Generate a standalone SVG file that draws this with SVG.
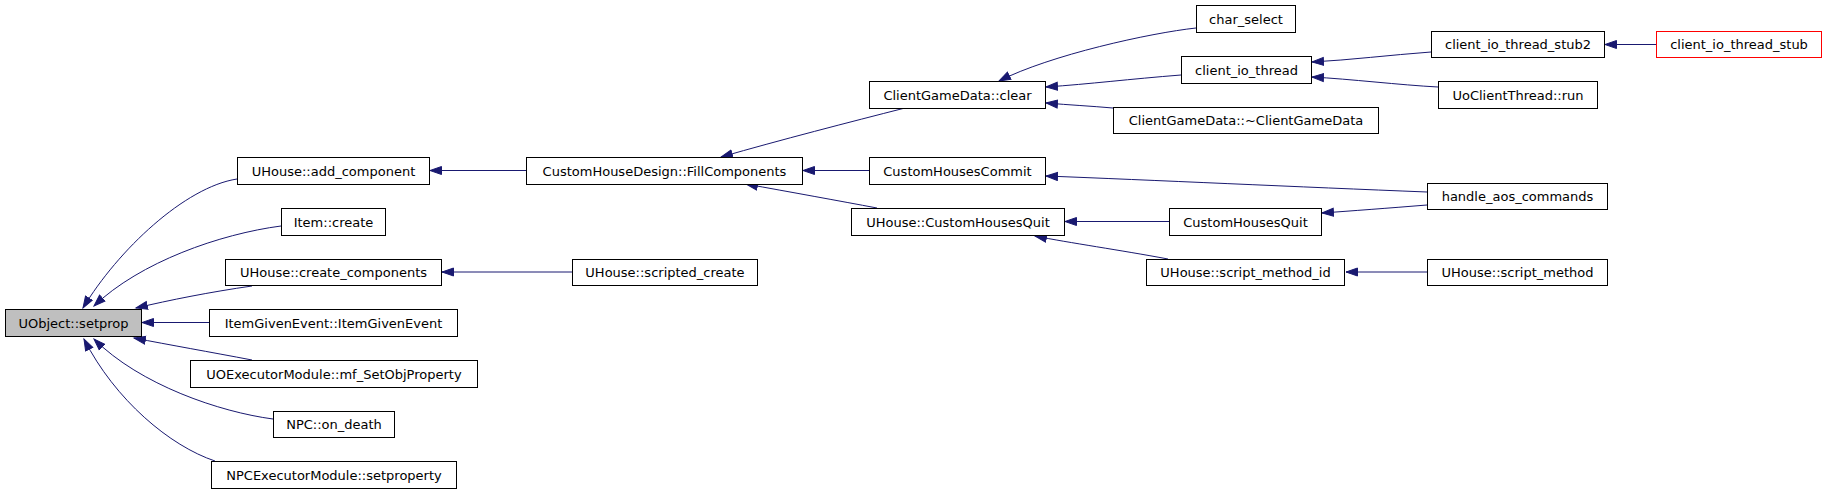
<svg xmlns="http://www.w3.org/2000/svg" width="1827" height="493" viewBox="0 0 1827 493">
<style>
.n rect{fill:#fff;stroke:#000;stroke-width:1}
.n text{font-family:"DejaVu Sans",sans-serif;font-size:13px;text-anchor:middle;fill:#000}
#edges path{fill:none;stroke:#191970;stroke-width:1;marker-end:url(#ah)}
</style>
<defs>
<marker id="ah" markerUnits="userSpaceOnUse" markerWidth="14" markerHeight="10" refX="12" refY="4.5" orient="auto" viewBox="0 0 14 9">
<path d="M0.5,0.5 L12,4.5 L0.5,8.5 z" fill="#191970" stroke="#191970" stroke-width="1"/>
</marker>
</defs>
<rect width="1827" height="493" fill="#fff"/>
<g id="edges">
<path d="M237,179 C185,187 118,250 83,308"/>
<path d="M281,226 C220,234 140,262 94,306"/>
<path d="M252,286 C210,292 170,300 136,308"/>
<path d="M209,322.5 L142,322.5"/>
<path d="M252,360 C210,352 170,345 134,338"/>
<path d="M273,419 C220,412 140,385 94,339"/>
<path d="M215,461 C170,446 115,400 84,339"/>
<path d="M526,170.5 L430,170.5"/>
<path d="M572,272 L442,272"/>
<path d="M905,108 C850,122 780,140 721,157"/>
<path d="M869,170.5 L803,170.5"/>
<path d="M877,208 C840,201 790,192 746,184"/>
<path d="M1196,28 C1150,33 1050,55 999,81"/>
<path d="M1181,75 C1130,79 1090,84 1046,87"/>
<path d="M1113,108 C1090,106 1070,105 1046,103"/>
<path d="M1431,52 C1390,55 1350,60 1312,62"/>
<path d="M1438,87 C1400,85 1350,79 1312,77"/>
<path d="M1656,44.5 L1605,44.5"/>
<path d="M1427,192 C1300,187 1150,180 1046,176"/>
<path d="M1427,205 C1390,208 1350,211 1322,213"/>
<path d="M1169,221.5 L1065,221.5"/>
<path d="M1168,259 C1120,250 1070,243 1035,236"/>
<path d="M1427,272 L1346,272"/>
</g>
<g id="n_setprop" class="n"><rect x="5.5" y="309.5" width="136" height="27" style="fill:#bfbfbf"/><text x="73.5" y="327.5">UObject::setprop</text></g>
<g id="n_add_component" class="n"><rect x="237.5" y="157.5" width="192" height="27"/><text x="333.5" y="175.5">UHouse::add_component</text></g>
<g id="n_item_create" class="n"><rect x="281.5" y="208.5" width="104" height="27"/><text x="333.5" y="226.5">Item::create</text></g>
<g id="n_create_components" class="n"><rect x="225.5" y="259.5" width="216" height="26"/><text x="333.5" y="277">UHouse::create_components</text></g>
<g id="n_itemgiven" class="n"><rect x="209.5" y="309.5" width="248" height="27"/><text x="333.5" y="327.5">ItemGivenEvent::ItemGivenEvent</text></g>
<g id="n_mf_setobj" class="n"><rect x="190.5" y="360.5" width="287" height="27"/><text x="334" y="378.5">UOExecutorModule::mf_SetObjProperty</text></g>
<g id="n_on_death" class="n"><rect x="273.5" y="411.5" width="121" height="26"/><text x="334" y="429">NPC::on_death</text></g>
<g id="n_npc_setproperty" class="n"><rect x="211.5" y="461.5" width="245" height="27"/><text x="334" y="479.5">NPCExecutorModule::setproperty</text></g>
<g id="n_fillcomponents" class="n"><rect x="526.5" y="157.5" width="276" height="27"/><text x="664.5" y="175.5">CustomHouseDesign::FillComponents</text></g>
<g id="n_scripted_create" class="n"><rect x="572.5" y="259.5" width="185" height="26"/><text x="665" y="277">UHouse::scripted_create</text></g>
<g id="n_cgd_clear" class="n"><rect x="869.5" y="81.5" width="176" height="27"/><text x="957.5" y="99.5">ClientGameData::clear</text></g>
<g id="n_chcommit" class="n"><rect x="869.5" y="157.5" width="176" height="27"/><text x="957.5" y="175.5">CustomHousesCommit</text></g>
<g id="n_uh_chquit" class="n"><rect x="851.5" y="208.5" width="213" height="27"/><text x="958" y="226.5">UHouse::CustomHousesQuit</text></g>
<g id="n_char_select" class="n"><rect x="1196.5" y="5.5" width="99" height="27"/><text x="1246" y="23.5">char_select</text></g>
<g id="n_client_io_thread" class="n"><rect x="1181.5" y="56.5" width="130" height="27"/><text x="1246.5" y="74.5">client_io_thread</text></g>
<g id="n_cgd_dtor" class="n"><rect x="1113.5" y="107.5" width="265" height="26"/><text x="1246" y="125">ClientGameData::~ClientGameData</text></g>
<g id="n_chquit" class="n"><rect x="1169.5" y="208.5" width="152" height="27"/><text x="1245.5" y="226.5">CustomHousesQuit</text></g>
<g id="n_script_method_id" class="n"><rect x="1146.5" y="259.5" width="198" height="26"/><text x="1245.5" y="277">UHouse::script_method_id</text></g>
<g id="n_stub2" class="n"><rect x="1431.5" y="31.5" width="173" height="26"/><text x="1518" y="49">client_io_thread_stub2</text></g>
<g id="n_uoclient_run" class="n"><rect x="1438.5" y="81.5" width="159" height="27"/><text x="1518" y="99.5">UoClientThread::run</text></g>
<g id="n_handle_aos" class="n"><rect x="1427.5" y="183.5" width="180" height="26"/><text x="1517.5" y="201">handle_aos_commands</text></g>
<g id="n_script_method" class="n"><rect x="1427.5" y="259.5" width="180" height="26"/><text x="1517.5" y="277">UHouse::script_method</text></g>
<g id="n_stub" class="n"><rect x="1656.5" y="31.5" width="165" height="26" style="stroke:#ff0000"/><text x="1739" y="49">client_io_thread_stub</text></g>
</svg>
